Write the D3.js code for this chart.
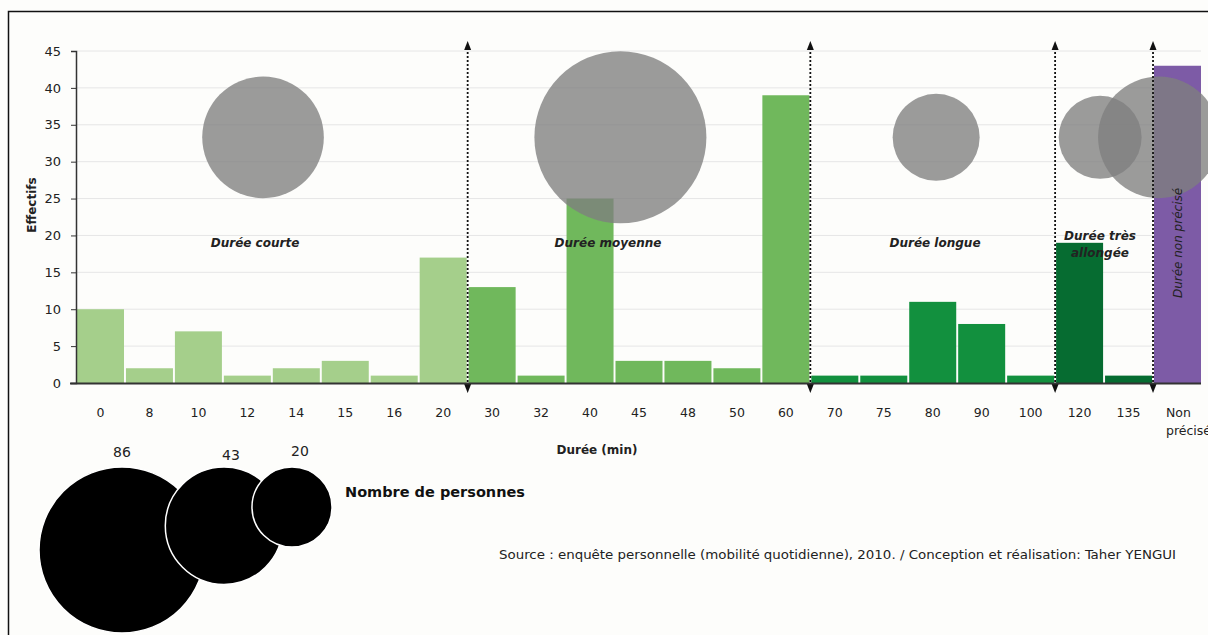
<!DOCTYPE html>
<html>
<head>
<meta charset="utf-8">
<script src="https://cdn.jsdelivr.net/npm/d3@7"></script>
<style>
  body { margin: 0; background: #fdfdfb; }
  svg { display: block; }
</style>
</head>
<body>
<svg id="graphique" width="1208" height="635"></svg>
<script>
// Données
var durees = ["0", "8", "10", "12", "14", "15", "16", "20", "30", "32", "40", "45", "48", "50", "60",
              "70", "75", "80", "90", "100", "120", "135", "Non précisé"];
var effectifs = [10, 2, 7, 1, 2, 3, 1, 17, 13, 1, 25, 3, 3, 2, 39, 1, 1, 11, 8, 1, 19, 1, 43];
var classes = ["courte", "courte", "courte", "courte", "courte", "courte", "courte", "courte",
               "moyenne", "moyenne", "moyenne", "moyenne", "moyenne", "moyenne", "moyenne",
               "longue", "longue", "longue", "longue", "longue", "allongee", "allongee", "np"];

// Classes de durée : total de personnes, position de la bulle (en catégories)
var nomsClasses = ["courte", "moyenne", "longue", "allongee", "np"];
var totauxClasses = [43, 86, 22, 20, 43];
var positionBulle = [3.8, 11.1, 17.55, 20.9, 22.1];
var libellesClasses = [["Durée courte"], ["Durée moyenne"], ["Durée longue"], ["Durée très", "allongée"], ["Durée non précisé"]];
var couleurs = { courte: "#a5cf8b", moyenne: "#70b85c", longue: "#12903e", allongee: "#066c31", np: "#7d5ba6" };

// Légende des bulles
var valeursLegende = [86, 43, 20];
var ticksY = [0, 5, 10, 15, 20, 25, 30, 35, 40, 45];

var svg = d3.select("#graphique");
var gauche = 77, droite = 1201, haut = 51, bas = 383;

var x = d3.scaleBand().domain(durees).range([gauche, droite]).paddingInner(0.04).paddingOuter(0);
var y = d3.scaleLinear().domain([0, 45]).range([bas, haut]);
var r = d3.scaleSqrt().domain([0, 86]).range([0, 86]);
var pas = x.step();

var police = "'DejaVu Sans', Verdana, sans-serif";

// Cadre
svg.append("path")
    .attr("d", "M8.5,635 V11.5 H1208")
    .attr("fill", "none").attr("stroke", "#111").attr("stroke-width", 1.5);

// Grille horizontale
svg.append("g").selectAll("line")
    .data(ticksY.slice(1))
    .join("line")
    .attr("x1", gauche).attr("x2", droite)
    .attr("y1", function (d) { return y(d); }).attr("y2", function (d) { return y(d); })
    .attr("stroke", "#e6e6e6").attr("stroke-width", 1);

// Barres
svg.append("g").selectAll("rect")
    .data(durees)
    .join("rect")
    .attr("x", function (d) { return x(d); })
    .attr("width", x.bandwidth())
    .attr("y", function (d, i) { return y(effectifs[i]); })
    .attr("height", function (d, i) { return bas - y(effectifs[i]); })
    .attr("fill", function (d, i) { return couleurs[classes[i]]; });

// Bulles (nombre de personnes par classe)
svg.append("g").selectAll("circle")
    .data(nomsClasses)
    .join("circle")
    .attr("cx", function (d, i) { return gauche + positionBulle[i] * pas; })
    .attr("cy", y(33.3))
    .attr("r", function (d, i) { return r(totauxClasses[i]); })
    .attr("fill", "#7f7f7f")
    .attr("fill-opacity", 0.78);

// Séparateurs pointillés avec flèches
var limites = ["30", "70", "120", "Non précisé"];
var sep = svg.append("g").selectAll("g")
    .data(limites)
    .join("g")
    .attr("transform", function (d) { return "translate(" + (x(d) - x.step() * 0.02) + ",0)"; });
sep.append("line")
    .attr("y1", 48).attr("y2", 386)
    .attr("stroke", "#111").attr("stroke-width", 1.8).attr("stroke-dasharray", "2,2");
sep.append("path").attr("d", "M0,41 L-3.5,50 L3.5,50 Z").attr("fill", "#111");
sep.append("path").attr("d", "M0,393 L-3.5,384 L3.5,384 Z").attr("fill", "#111");

// Axe Y
var axeY = svg.append("g")
    .attr("transform", "translate(" + (gauche - 1) + ",0)")
    .call(d3.axisLeft(y).tickValues(ticksY).tickSize(5).tickPadding(10));
axeY.select(".domain").attr("stroke", "#333").attr("stroke-width", 1.5);
axeY.selectAll(".tick line").attr("stroke", "#333");
axeY.selectAll("text").attr("font-family", police).attr("font-size", 13).attr("fill", "#222");

// Axe X
svg.append("line")
    .attr("x1", gauche - 7).attr("x2", droite)
    .attr("y1", bas + 0.5).attr("y2", bas + 0.5)
    .attr("stroke", "#333").attr("stroke-width", 2);

svg.append("g").selectAll("text")
    .data(durees.slice(0, -1))
    .join("text")
    .attr("x", function (d) { return x(d) + x.bandwidth() / 2; })
    .attr("y", 417)
    .attr("text-anchor", "middle")
    .attr("font-family", police).attr("font-size", 12.5).attr("fill", "#222")
    .text(function (d) { return d; });

var np = svg.append("text")
    .attr("x", x("Non précisé") + 12)
    .attr("font-family", police).attr("font-size", 12.5).attr("fill", "#222");
np.append("tspan").attr("x", x("Non précisé") + 12).attr("y", 417).text("Non");
np.append("tspan").attr("x", x("Non précisé") + 12).attr("y", 435).text("précisé");

// Titres des axes
svg.append("text")
    .attr("x", 597).attr("y", 454)
    .attr("text-anchor", "middle")
    .attr("font-family", police).attr("font-size", 12).attr("font-weight", "bold").attr("fill", "#222")
    .text("Durée (min)");

svg.append("text")
    .attr("transform", "translate(36,205) rotate(-90)")
    .attr("text-anchor", "middle")
    .attr("font-family", police).attr("font-size", 12).attr("font-weight", "bold").attr("fill", "#222")
    .text("Effectifs");

// Libellés des classes
var posLibelles = [[255, 247], [608, 247], [935, 247], [1100, 240]];
libellesClasses.slice(0, 4).forEach(function (lignes, i) {
    var t = svg.append("text")
        .attr("text-anchor", "middle")
        .attr("font-family", police).attr("font-size", 12).attr("font-style", "italic")
        .attr("font-weight", "bold").attr("fill", "#222");
    lignes.forEach(function (l, j) {
        t.append("tspan").attr("x", posLibelles[i][0]).attr("y", posLibelles[i][1] + j * 17).text(l);
    });
});
svg.append("text")
    .attr("transform", "translate(" + (x("Non précisé") + x.bandwidth() / 2 + 4) + ",243) rotate(-90)")
    .attr("text-anchor", "middle")
    .attr("font-family", police).attr("font-size", 12).attr("font-style", "italic")
    .attr("fill", "#222")
    .text(libellesClasses[4][0]);

// Légende des bulles
var rl = d3.scaleSqrt().domain([0, 86]).range([0, 83]);
var centresLegende = [122, 224, 292];
var hautLegende = 467;
svg.append("g").selectAll("circle")
    .data(valeursLegende)
    .join("circle")
    .attr("cx", function (d, i) { return centresLegende[i]; })
    .attr("cy", function (d) { return hautLegende + rl(d); })
    .attr("r", function (d) { return rl(d); })
    .attr("fill", "#000")
    .attr("stroke", "#fff").attr("stroke-width", 1.5);

var posTexteLegende = [[122, 457], [231, 460], [300, 456]];
svg.append("g").selectAll("text")
    .data(valeursLegende)
    .join("text")
    .attr("x", function (d, i) { return posTexteLegende[i][0]; })
    .attr("y", function (d, i) { return posTexteLegende[i][1]; })
    .attr("text-anchor", "middle")
    .attr("font-family", police).attr("font-size", 14).attr("fill", "#222")
    .text(function (d) { return d; });

svg.append("text")
    .attr("x", 345).attr("y", 497)
    .attr("font-family", police).attr("font-size", 14.5).attr("font-weight", "bold").attr("fill", "#111")
    .text("Nombre de personnes");

// Source
svg.append("text")
    .attr("x", 499).attr("y", 559)
    .attr("font-family", "'DejaVu Sans Condensed', 'DejaVu Sans', sans-serif").attr("font-size", 12).attr("fill", "#222")
    .attr("textLength", 677).attr("lengthAdjust", "spacingAndGlyphs")
    .text("Source : enquête personnelle (mobilité quotidienne), 2010. / Conception et réalisation: Taher YENGUI");
</script>
</body>
</html>
